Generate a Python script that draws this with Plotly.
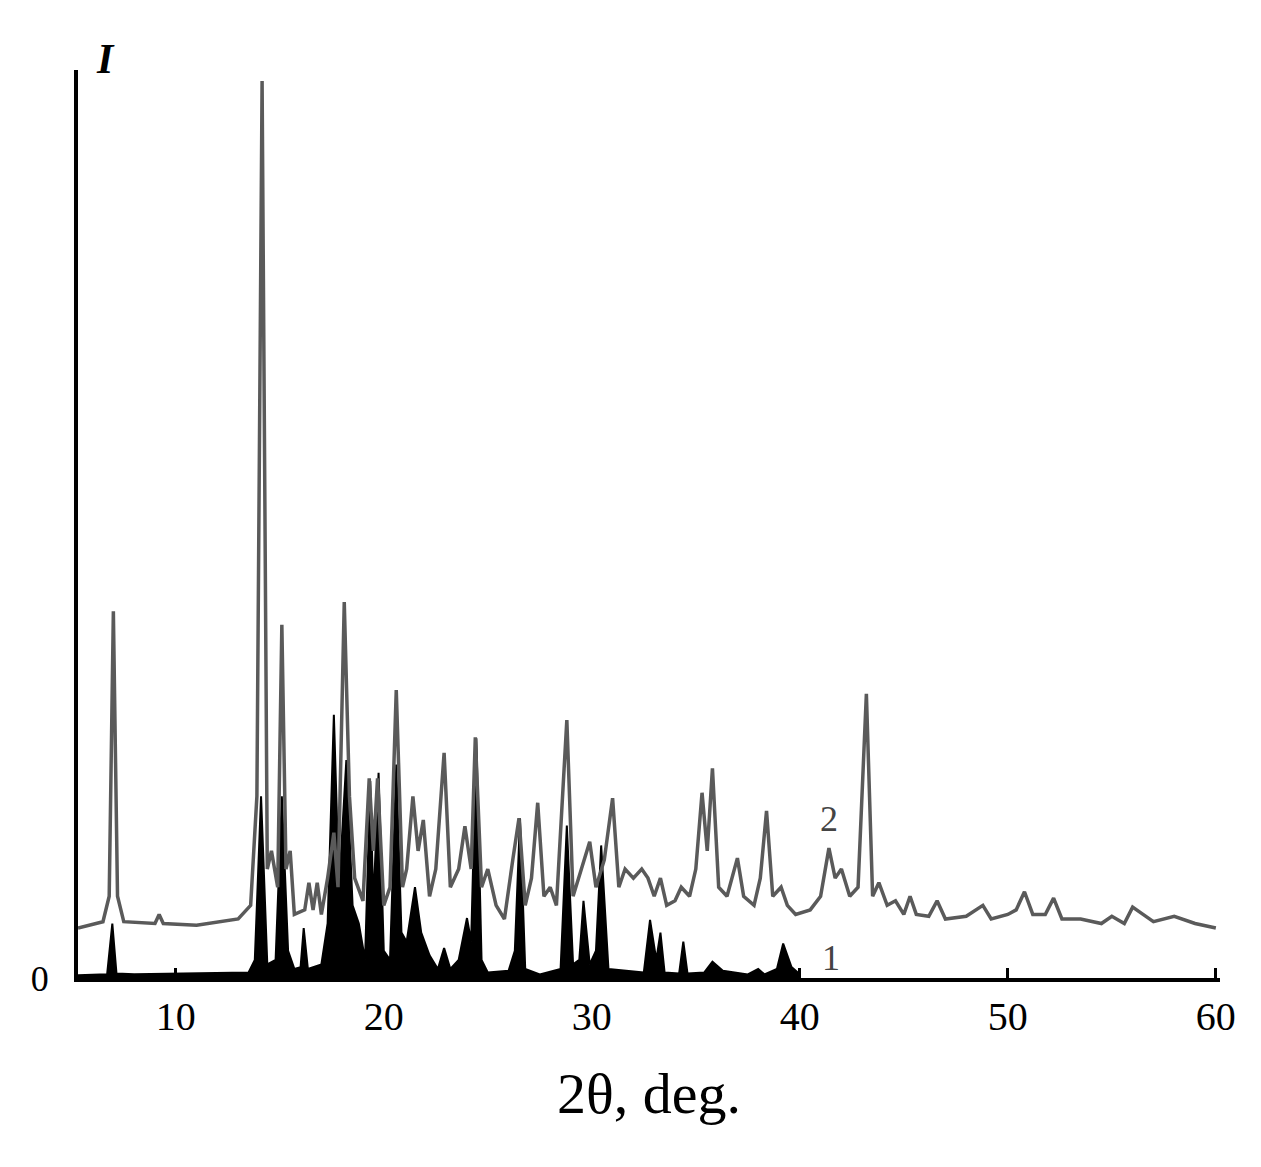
import plotly.graph_objects as go

# Pattern 2 (gray) vertices: 2θ (deg) and intensity (arb., 0-100)
x2 = [5.3,6.5,6.8,7.0,7.2,7.5,9.0,9.2,9.4,11,13,13.6,13.9,14.15,14.4,14.6,14.9,15.1,15.3,15.5,15.7,16.2,16.4,16.6,16.8,17.0,17.3,17.6,17.8,18.1,18.35,18.6,19.0,19.3,19.5,19.7,20.0,20.3,20.6,20.9,21.1,21.4,21.65,21.9,22.2,22.5,22.9,23.2,23.6,23.9,24.2,24.4,24.7,25.0,25.4,25.8,26.2,26.5,26.8,27.1,27.4,27.7,28.0,28.3,28.8,29.1,29.5,29.9,30.2,30.6,31.0,31.3,31.6,32.0,32.4,32.7,33.0,33.3,33.6,34.0,34.3,34.7,35.0,35.3,35.55,35.8,36.1,36.5,37.0,37.3,37.8,38.1,38.4,38.7,39.1,39.4,39.8,40.5,41.0,41.4,41.7,42.0,42.4,42.8,43.2,43.5,43.8,44.2,44.6,45.0,45.3,45.6,46.2,46.6,47,48,48.8,49.2,50,50.4,50.8,51.2,51.8,52.2,52.6,53.5,54.5,55,55.6,56,56.5,57,58,59,60]
y2 = [5.5,6.2,9,40.4,9,6.2,6,7,6,5.8,6.5,8,20,98.8,12,14,10,38.9,12,14,7,7.5,10.5,7.5,10.5,7,11,16,10,41.4,20,11,8.5,22,14,22,8,10,31.7,10,12,20,14,17.4,9,12,24.8,10,12,16.7,12,26.5,10,12,8,6.5,13,17.6,8,11,19.3,9,10,8,28.4,9,12,15,10,13,19.8,10,12,11,12,11,9,11,8,8.5,10,9,12,20.4,14,23.1,10,9,13.2,9,8,11,18.4,9,10,8,7,7.5,9,14.3,11,12,9,10,31.3,9,10.5,8,8.5,7,9,7,6.8,8.5,6.5,6.8,8,6.5,7,7.5,9.5,7,7,8.8,6.5,6.5,6,6.8,6,7.8,7,6.2,6.8,6,5.5]

# Pattern 1 (black, filled) vertices
x1 = [5.3,6.7,6.95,7.15,8,13.5,13.8,14.1,14.4,14.8,15.1,15.4,15.7,16.0,16.15,16.35,17.0,17.3,17.6,17.85,18.2,18.5,18.8,19.1,19.35,19.5,19.75,20.0,20.3,20.6,20.85,21.1,21.5,21.8,22.2,22.6,22.9,23.2,23.6,24.0,24.2,24.45,24.7,25,26.0,26.3,26.55,26.8,27.5,28.5,28.8,29.1,29.4,29.6,29.9,30.2,30.45,30.8,32.5,32.8,33.1,33.3,33.5,34.2,34.4,34.6,35.4,35.8,36.3,37.5,38.0,38.3,38.9,39.2,39.6,40.0]
y1 = [0.3,0.4,6,0.5,0.4,0.6,2,20,1.5,2,20,3,1,1.2,5.5,1,1.5,6,29,10,24,8,6,2,21.7,8,22.6,3,2,23.5,5,4,10,5,2.5,1,3.3,1,2,6.6,4,26.4,2,0.6,0.8,3,17.6,1,0.4,1,16.8,1.5,2,8.5,1.5,3,14.6,1,0.6,6.4,2,5,0.6,0.5,4,0.5,0.6,1.8,0.8,0.4,1,0.4,1,3.8,1.2,0.4]

xticks = [10, 20, 30, 40, 50, 60]

fig = go.Figure()
fig.add_trace(go.Scatter(x=x1, y=y1, mode="lines", fill="tozeroy", fillcolor="black",
                         line=dict(color="black", width=2), hoverinfo="skip"))
fig.add_trace(go.Scatter(x=x2, y=y2, mode="lines", line=dict(color="#5a5a5a", width=3.5), hoverinfo="skip"))

serif = "Liberation Serif"
fig.update_layout(
    width=1261, height=1167, showlegend=False,
    paper_bgcolor="white", plot_bgcolor="white",
    margin=dict(l=70, r=49, t=62, b=197),
    font=dict(family=serif, color="black"),
    xaxis=dict(range=[5.3, 60.2], tickvals=xticks, ticks="inside", ticklen=10, tickwidth=3,
               tickcolor="black", showline=True, linecolor="black", linewidth=4,
               showgrid=False, zeroline=False, tickfont=dict(size=40, family=serif),
               title=dict(text="2θ, deg.", font=dict(size=58, family=serif), standoff=35)),
    yaxis=dict(range=[0, 100], tickvals=[0], ticktext=["0"], ticks="", showline=True,
               linecolor="black", linewidth=4, showgrid=False, zeroline=False,
               tickfont=dict(size=36, family=serif), ticklabelstandoff=18),
    annotations=[
        dict(text="<b><i>I</i></b>", x=0.0, y=1.0, xref="paper", yref="paper", xanchor="left",
             yanchor="bottom", xshift=16, yshift=-14, showarrow=False, font=dict(size=42, family=serif)),
        dict(text="2", x=41.4, y=17.5, showarrow=False, font=dict(size=36, family=serif, color="#444")),
        dict(text="1", x=41.5, y=2.2, showarrow=False, font=dict(size=36, family=serif, color="#444")),
    ],
)
fig.write_html("out.html")
